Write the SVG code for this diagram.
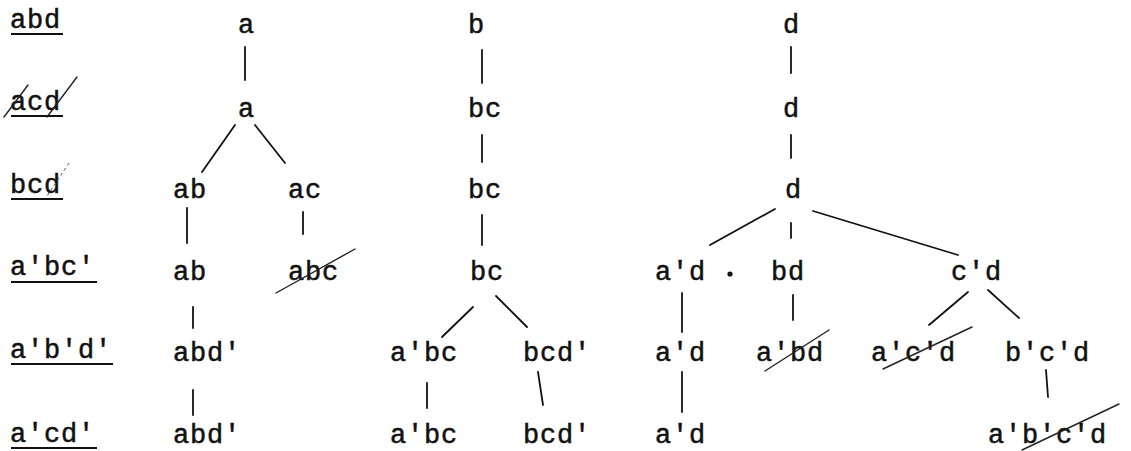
<svg xmlns="http://www.w3.org/2000/svg" width="1131" height="451" viewBox="0 0 1131 451">
<style>
text{font-family:"Liberation Mono","DejaVu Sans Mono",monospace;font-size:27px;letter-spacing:0.8px;fill:#111;stroke:#111;stroke-width:0.5}
.ul{stroke:#111;stroke-width:2.2;fill:none}
.e{stroke:#111;stroke-width:1.8;fill:none;stroke-linecap:round}
.x{stroke:#222;stroke-width:1.4;fill:none;stroke-linecap:round}
.xf{stroke:#555;stroke-width:1;fill:none;stroke-dasharray:3 3}
</style>
<rect width="1131" height="451" fill="#fff"/>
<g id="labels">
<g id="L1"><text x="10" y="28">abd</text><line class="ul" x1="11" y1="34" x2="63" y2="34"/></g>
<g id="L2"><text x="10" y="110">acd</text><line class="ul" x1="11" y1="116" x2="63" y2="116"/><line class="x" x1="28" y1="85" x2="4" y2="117"/><line class="x" x1="77" y1="77" x2="47" y2="117"/></g>
<g id="L3"><text x="10" y="193">bcd</text><line class="ul" x1="11" y1="199" x2="63" y2="199"/><line class="xf" x1="69" y1="163" x2="47" y2="196"/></g>
<g id="L4"><text x="10" y="275">a'bc'</text><line class="ul" x1="11" y1="282" x2="97" y2="282"/></g>
<g id="L5"><text x="10" y="358">a'b'd'</text><line class="ul" x1="11" y1="364" x2="113" y2="364"/></g>
<g id="L6"><text x="10" y="442">a'cd'</text><line class="ul" x1="11" y1="448" x2="97" y2="448"/></g>
</g>
<g id="tree1">
<g id="t1r1"><text x="238" y="33">a</text></g>
<g id="t1r2"><text x="238" y="117">a</text></g>
<g id="t1ab3"><text x="173" y="198">ab</text></g>
<g id="t1ac3"><text x="288" y="198">ac</text></g>
<g id="t1ab4"><text x="173" y="280">ab</text></g>
<g id="t1abc4"><text x="288" y="280">abc</text><line class="x" x1="276" y1="293" x2="355" y2="249"/></g>
<g id="t1abd5"><text x="173" y="361">abd'</text></g>
<g id="t1abd6"><text x="173" y="443">abd'</text></g>
</g>
<g id="tree2">
<g id="t2r1"><text x="468" y="33">b</text></g>
<g id="t2r2"><text x="468" y="117">bc</text></g>
<g id="t2r3"><text x="468" y="198">bc</text></g>
<g id="t2r4"><text x="470" y="280">bc</text></g>
<g id="t2abc5"><text x="390" y="361">a'bc</text></g>
<g id="t2bcd5"><text x="523" y="361">bcd'</text></g>
<g id="t2abc6"><text x="390" y="443">a'bc</text></g>
<g id="t2bcd6"><text x="523" y="443">bcd'</text></g>
</g>
<g id="tree3">
<g id="t3r1"><text x="783" y="33">d</text></g>
<g id="t3r2"><text x="783" y="117">d</text></g>
<g id="t3r3"><text x="785" y="198">d</text></g>
<g id="t3ad4"><text x="655" y="280">a'd</text><circle cx="730" cy="274" r="2.6" fill="#111"/></g>
<g id="t3bd4"><text x="771" y="280">bd</text></g>
<g id="t3cd4"><text x="951" y="280">c'd</text></g>
<g id="t3ad5"><text x="655" y="361">a'd</text></g>
<g id="t3abd5"><text x="756" y="361">a'bd</text><line class="x" x1="765" y1="371" x2="829" y2="330"/></g>
<g id="t3acd5"><text x="871" y="361">a'c'd</text><line class="x" x1="883" y1="369" x2="972" y2="327"/></g>
<g id="t3bcd5"><text x="1005" y="361">b'c'd</text></g>
<g id="t3ad6"><text x="655" y="443">a'd</text></g>
<g id="t3abcd6"><text x="988" y="443">a'b'c'd</text><line class="x" x1="1022" y1="450" x2="1119" y2="404"/></g>
</g>
<g id="connectors">
<line class="e" x1="245" y1="47" x2="245" y2="80"/>
<line class="e" x1="235" y1="125" x2="202" y2="172"/>
<line class="e" x1="255" y1="125" x2="285" y2="163"/>
<line class="e" x1="187" y1="208" x2="187" y2="243"/>
<line class="e" x1="303" y1="212" x2="303" y2="234"/>
<line class="e" x1="193" y1="307" x2="193" y2="328"/>
<line class="e" x1="193" y1="390" x2="193" y2="415"/>
<line class="e" x1="482" y1="50" x2="482" y2="83"/>
<line class="e" x1="482" y1="135" x2="482" y2="162"/>
<line class="e" x1="482" y1="215" x2="482" y2="245"/>
<line class="e" x1="473" y1="307" x2="442" y2="337"/>
<line class="e" x1="496" y1="296" x2="527" y2="327"/>
<line class="e" x1="427" y1="383" x2="427" y2="408"/>
<line class="e" x1="538" y1="372" x2="543" y2="405"/>
<line class="e" x1="791" y1="47" x2="791" y2="73"/>
<line class="e" x1="791" y1="135" x2="791" y2="158"/>
<line class="e" x1="775" y1="209" x2="710" y2="245"/>
<line class="e" x1="791" y1="223" x2="791" y2="238"/>
<line class="e" x1="813" y1="211" x2="958" y2="255"/>
<line class="e" x1="682" y1="293" x2="682" y2="332"/>
<line class="e" x1="682" y1="372" x2="682" y2="412"/>
<line class="e" x1="793" y1="295" x2="793" y2="320"/>
<line class="e" x1="968" y1="292" x2="929" y2="325"/>
<line class="e" x1="988" y1="290" x2="1019" y2="318"/>
<line class="e" x1="1046" y1="370" x2="1048" y2="397"/>
</g>
</svg>
